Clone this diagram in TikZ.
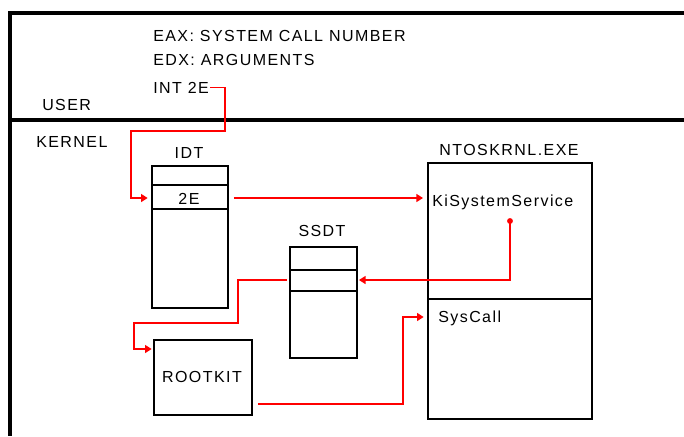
\documentclass[tikz,border=0pt]{standalone}
\usepackage{fontspec}
\setmainfont{Liberation Sans}[LetterSpace=9]
\usepackage{xcolor}
\usepackage{tikz}
\usetikzlibrary{arrows.meta,positioning,calc}

\begin{document}
\begin{tikzpicture}[
  x=0.75pt, y=-0.75pt,
  >={Triangle[length=5pt,width=6pt]},
  font=\fontsize{12}{14}\selectfont,
  tablebox/.style={draw=black, line width=1.2pt, inner sep=0pt, anchor=north west},
  lbl/.style={inner sep=0pt, anchor=base west},
  title/.style={inner sep=0pt, anchor=base},
  call/.style={draw=red, line width=1.1pt, ->},
  frameline/.style={line width=2.4pt}
]

\useasboundingbox (0,0) rectangle (684,436);

% ==================== Frame: user / kernel split ====================
\draw[frameline] (684,13) -- (10,13) -- (10,436);
\draw[frameline] (10,120) -- (684,120);

\node[lbl] (user)   at (42,110) {USER};
\node[lbl] (kernel) at (36,147) {KERNEL};

% ==================== User mode registers ====================
\node[lbl] (eax)   at (153,41) {EAX: SYSTEM CALL NUMBER};
\node[lbl] (edx)   at (153,65) {EDX: ARGUMENTS};
\node[lbl] (int2e) at (153,93) {INT 2E};

% ==================== IDT ====================
\node[title] (idtlbl) at (189,158) {IDT};
\node[tablebox, minimum width=57pt, minimum height=106.5pt] (idt) at (151,165) {};
\draw[line width=1.2pt] (151,185) -- (227,185);
\draw[line width=1.2pt] (151,209) -- (227,209);
\node[title] (twoE) at (189,204) {2E};
\coordinate (idtslot) at (189,198);

% ==================== SSDT ====================
\node[title] (ssdtlbl) at (322,236) {SSDT};
\node[tablebox, minimum width=50.25pt, minimum height=83.25pt] (ssdt) at (289,246) {};
\draw[line width=1.2pt] (289,270) -- (356,270);
\draw[line width=1.2pt] (289,291) -- (356,291);
\coordinate (ssdtslot) at (322,280);

% ==================== ROOTKIT ====================
\node[tablebox, minimum width=73.5pt, minimum height=56.25pt] (rootkit) at (153,339) {};
\node[title] (rklbl) at (202,382) {ROOTKIT};
\coordinate (rkin)  at (202,349);
\coordinate (rkout) at (202,404);

% ==================== NTOSKRNL.EXE ====================
\node[title] (ntoslbl) at (509,155) {NTOSKRNL.EXE};
\node[tablebox, minimum width=123pt, minimum height=192pt] (ntos) at (427,162) {};
\draw[line width=1.2pt] (427,299) -- (591,299);
\node[lbl] (kiss)    at (432,206) {KiSystemService};
\node[lbl] (syscall) at (438,322) {SysCall};
\coordinate (kissin) at (509,198);
\coordinate (sysin)  at (509,317);
\coordinate (dot)    at (510,221);

% ==================== Call path (red) ====================
\coordinate (bend1) at (225,131);
\coordinate (bend2) at (131,198);
\draw[call, shorten >=2.5pt] ([xshift=1pt]int2e.east) -| (bend1) -| (bend2) -- (idt.west |- idtslot);

\draw[call, shorten <=4pt, shorten >=3pt] (idt.east |- idtslot) -- (ntos.west |- kissin);

\fill[red] (dot) circle (2.2pt);
\draw[call, shorten >=1pt] (dot) |- (ssdt.east |- ssdtslot);

\coordinate (bend3) at (238,323);
\coordinate (bend4) at (134,349);
\draw[call, shorten >=1pt] ([xshift=-1.5pt]ssdt.west |- ssdtslot) -| (bend3) -| (bend4) -- (rootkit.west |- rkin);

\coordinate (bend5) at (403,317);
\draw[call, shorten <=4pt, shorten >=2.5pt] (rootkit.east |- rkout) -| (bend5) -- (ntos.west |- sysin);

\end{tikzpicture}
\end{document}
